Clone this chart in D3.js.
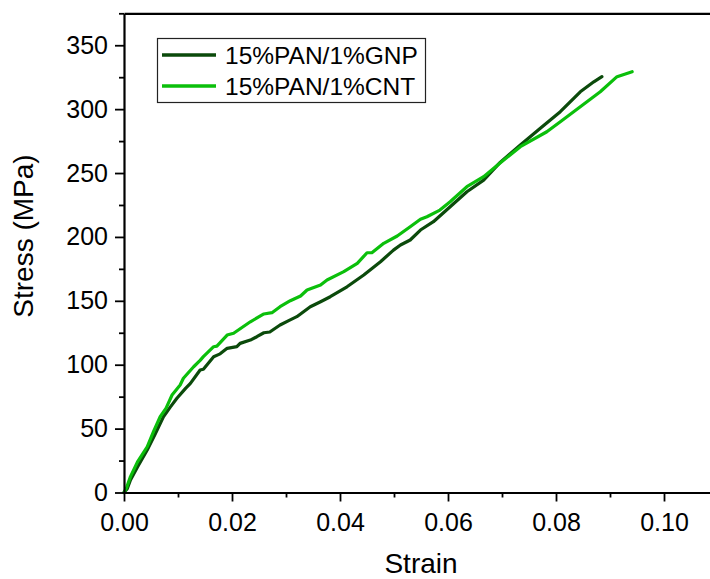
<!DOCTYPE html>
<html>
<head>
<meta charset="utf-8">
<script src="https://cdn.jsdelivr.net/npm/d3@7"></script>
<style>
  html, body { margin: 0; padding: 0; background: #fff; }
  svg { display: block; }
  text { font-family: Arial, "Liberation Sans", sans-serif; fill: #000; }
</style>
</head>
<body>
<svg id="chart" width="710" height="579"></svg>
<script>
// Stress–strain curves: [strain, stress (MPa)]
const gnpCurve = [
  [0, 0], [0.0006, 3], [0.0012, 9.8], [0.0025, 20], [0.0043, 33.3], [0.0058, 46],
  [0.0073, 59.3], [0.0086, 67], [0.0098, 73.7], [0.0114, 81.5], [0.0123, 85.4],
  [0.0141, 95.9], [0.0147, 96.5], [0.0166, 106.3], [0.0178, 108.5], [0.0191, 112.8],
  [0.0209, 114.1], [0.0215, 116.7], [0.0234, 119.3], [0.0246, 121.9], [0.0259, 125.0],
  [0.0270, 125.6], [0.0289, 131.1], [0.0305, 134.5], [0.0320, 137.6], [0.0345, 145.4],
  [0.0364, 149.3], [0.0382, 153.2], [0.0413, 161.0], [0.0444, 170.2], [0.0475, 180.6],
  [0.0499, 189.7], [0.0512, 193.7], [0.0530, 197.6], [0.0549, 205.4], [0.0573, 211.9],
  [0.0604, 223.6], [0.0635, 235.4], [0.0666, 244.5], [0.0697, 258.5], [0.0734, 271.9],
  [0.0771, 285.0], [0.0808, 298.0], [0.0845, 313.6], [0.0870, 321.4], [0.0885, 325.4]
];
const cntCurve = [
  [0, 0], [0.0005, 4], [0.0012, 12.4], [0.0025, 24], [0.0043, 35.8], [0.0055, 48],
  [0.0067, 59.3], [0.0078, 66], [0.0089, 76.3], [0.0104, 84.1], [0.0110, 89.4],
  [0.0129, 98.4], [0.0141, 103.4], [0.0147, 106.3], [0.0166, 114.1], [0.0172, 114.6],
  [0.0191, 123.2], [0.0203, 124.6], [0.0234, 133.6], [0.0259, 139.7], [0.0274, 140.7],
  [0.0289, 145.4], [0.0308, 150.1], [0.0327, 153.8], [0.0339, 158.5], [0.0364, 162.4],
  [0.0376, 166.3], [0.0407, 172.8], [0.0432, 179.3], [0.0450, 187.6], [0.0459, 187.6],
  [0.0481, 195.0], [0.0506, 200.7], [0.0530, 208.0], [0.0549, 213.8], [0.0561, 215.8],
  [0.0585, 221], [0.0604, 227.5], [0.0635, 239.3], [0.0666, 247.1], [0.0697, 258],
  [0.0734, 270.6], [0.0783, 282.3], [0.0808, 290.1], [0.0845, 301.9], [0.0882, 313.6],
  [0.0913, 325.4], [0.0941, 329.3]
];

const seriesNames = ["15%PAN/1%GNP", "15%PAN/1%CNT"];
const seriesColors = ["#0b4a0b", "#0bbf0b"];

const xMajorTicks = [0, 0.02, 0.04, 0.06, 0.08, 0.10];
const xMinorTicks = [0.01, 0.03, 0.05, 0.07, 0.09];
const yMajorTicks = [0, 50, 100, 150, 200, 250, 300, 350];
const yMinorTicks = [25, 75, 125, 175, 225, 275, 325, 375];

const xTitle = "Strain";
const yTitle = "Stress (MPa)";

const svg = d3.select("#chart");
const margin = { left: 124, top: 13.3 };
const plotW = 594, plotH = 479.2;

const x = d3.scaleLinear().domain([0, 0.11]).range([margin.left, margin.left + plotW]);
const y = d3.scaleLinear().domain([0, 375]).range([margin.top + plotH, margin.top]);

// curves
const line = d3.line().x(d => x(d[0])).y(d => y(d[1]));
[gnpCurve, cntCurve].forEach((data, i) => {
  svg.append("path")
    .datum(data)
    .attr("d", line)
    .attr("fill", "none")
    .attr("stroke", seriesColors[i])
    .attr("stroke-width", 3.2)
    .attr("stroke-linejoin", "round")
    .attr("stroke-linecap", "round");
});

// minor ticks
svg.append("g")
  .attr("transform", `translate(0,${y(0)})`)
  .call(d3.axisBottom(x).tickValues(xMinorTicks).tickSize(5).tickFormat(""))
  .call(g => g.select(".domain").remove())
  .call(g => g.selectAll("line").attr("stroke-width", 1.8));
svg.append("g")
  .attr("transform", `translate(${x(0)},0)`)
  .call(d3.axisLeft(y).tickValues(yMinorTicks).tickSize(5).tickFormat(""))
  .call(g => g.select(".domain").remove())
  .call(g => g.selectAll("line").attr("stroke-width", 1.8));

// major axes
const xAxis = svg.append("g")
  .attr("transform", `translate(0,${y(0)})`)
  .call(d3.axisBottom(x).tickValues(xMajorTicks).tickSize(9).tickSizeOuter(0)
    .tickPadding(11.5).tickFormat(d3.format(".2f")));
const yAxis = svg.append("g")
  .attr("transform", `translate(${x(0)},0)`)
  .call(d3.axisLeft(y).tickValues(yMajorTicks).tickSize(9).tickSizeOuter(0)
    .tickPadding(7).tickFormat(d3.format("d")));
[xAxis, yAxis].forEach(g => {
  g.select(".domain").attr("stroke-width", 2.2);
  g.selectAll(".tick line").attr("stroke-width", 1.8);
  g.selectAll("text")
    .attr("font-size", 25)
    .attr("font-family", "Arial, 'Liberation Sans', sans-serif");
});

// top frame line
svg.append("g")
  .attr("transform", `translate(0,${y(375)})`)
  .call(d3.axisTop(x).tickValues([]).tickSizeOuter(0))
  .call(g => g.select(".domain").attr("stroke-width", 2.2));

// axis titles
svg.append("text")
  .attr("x", x(0.055)).attr("y", 573)
  .attr("text-anchor", "middle")
  .attr("font-size", 28)
  .text(xTitle);
svg.append("text")
  .attr("transform", `translate(33,236) rotate(-90)`)
  .attr("text-anchor", "middle")
  .attr("font-size", 28)
  .text(yTitle);

// legend
const legend = svg.append("g");
legend.append("rect")
  .attr("x", 157.5).attr("y", 38.5).attr("width", 268).attr("height", 64)
  .attr("fill", "#fff").attr("stroke", "#222").attr("stroke-width", 1.2);
seriesNames.forEach((name, i) => {
  const ly = 55 + i * 31;
  legend.append("line")
    .attr("x1", 162).attr("x2", 216).attr("y1", ly).attr("y2", ly)
    .attr("stroke", seriesColors[i]).attr("stroke-width", 3.5);
  legend.append("text")
    .attr("x", 225).attr("y", ly + 9)
    .attr("font-size", 24.5)
    .text(name);
});
</script>
</body>
</html>
